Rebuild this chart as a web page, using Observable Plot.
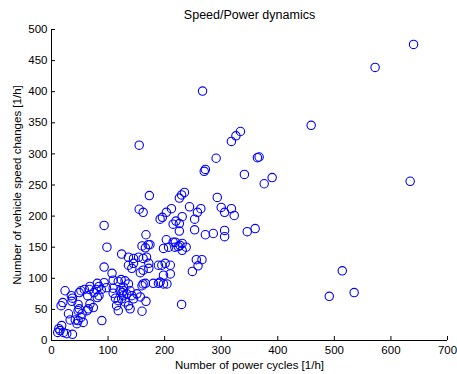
<!DOCTYPE html>
<html>
<head>
<meta charset="utf-8">
<script src="https://cdn.jsdelivr.net/npm/d3@7"></script>
<script src="https://cdn.jsdelivr.net/npm/@observablehq/plot@0.6"></script>
<style>
  html, body { margin: 0; padding: 0; background: #fff; }
  #chart svg { display: block; }
</style>
</head>
<body>
<div id="chart"></div>
<script>
const title = "Speed/Power dynamics";
const xLabel = "Number of power cycles [1/h]";
const yLabel = "Number of vehicle speed changes [1/h]";
const xTicks = [0, 100, 200, 300, 400, 500, 600, 700];
const yTicks = [0, 50, 100, 150, 200, 250, 300, 350, 400, 450, 500];

// Number of power cycles [1/h]
const powerCycles = [
  640, 572, 459, 267, 334, 326, 318, 155, 291, 364, 367, 270, 272, 341, 390, 376, 634, 514, 491, 535,
  173, 235, 230, 226, 293, 244, 264, 258, 300, 306, 318, 323, 155, 162, 212, 203,
  192, 196, 215, 220, 226, 231, 93, 226, 253, 253, 272, 286, 306, 306, 346, 360,
  167, 203, 215, 231, 219, 238, 224, 160, 171, 166, 174, 198, 207, 218, 227, 231, 98,
  256, 266, 259, 249, 230, 145, 154, 162, 168, 172, 136, 142, 145, 157, 162, 172,
  189, 195, 201, 210, 198, 210, 124, 136, 93, 107, 109, 118, 123, 130, 136, 139, 142, 133, 145,
  115, 118, 162, 160, 166, 180, 189, 198, 204, 192, 127, 124, 130, 121, 127, 151, 157, 136, 139,
  24, 52, 49, 58, 68, 67, 64, 81, 84, 79, 75, 88, 84, 81, 93, 97, 109, 109, 113, 118, 125, 127,
  17, 20, 35, 37, 36, 47, 49, 47, 54, 52, 47, 45, 56, 42, 33, 30, 68, 65, 63, 74, 89,
  18, 13, 15, 11, 21, 27, 37, 160, 167
];
// Number of vehicle speed changes [1/h]
const speedChanges = [
  476, 439, 346, 401, 336, 329, 320, 314, 293, 294, 295, 272, 275, 267, 262, 252, 256, 112, 71, 77,
  233, 238, 234, 229, 230, 215, 212, 206, 214, 206, 212, 201, 211, 206, 212, 206,
  195, 198, 187, 192, 188, 199, 185, 176, 195, 178, 170, 172, 177, 167, 175, 180,
  170, 162, 158, 156, 158, 150, 151, 152, 154, 149, 154, 148, 150, 150, 153, 145, 150,
  130, 130, 120, 111, 58, 132, 134, 132, 134, 124, 121, 116, 124, 109, 113, 116,
  121, 121, 124, 121, 105, 107, 139, 134, 118, 108, 97, 95, 98, 96, 91, 80, 72, 75, 67,
  56, 48, 91, 88, 92, 92, 92, 91, 91, 94, 80, 67, 62, 80, 86, 75, 70, 56, 51,
  80, 80, 77, 82, 87, 82, 72, 92, 87, 82, 77, 82, 72, 69, 93, 85, 84, 76, 68, 64, 77, 72,
  56, 61, 72, 68, 63, 58, 51, 48, 43, 37, 32, 27, 29, 33, 33, 43, 59, 51, 48, 53, 32,
  24, 19, 16, 13, 13, 11, 10, 47, 63
];

const points = powerCycles.map((x, i) => ({x, y: speedChanges[i]}));

const font = "'Liberation Sans', Arial, sans-serif";

const chart = Plot.plot({
  width: 457,
  height: 374,
  marginLeft: 51,
  marginRight: 10,
  marginTop: 29,
  marginBottom: 34,
  style: {fontFamily: font, fontSize: "11.5px", color: "#000", background: "#fff", overflow: "visible"},
  x: {domain: [0, 700], ticks: xTicks},
  y: {domain: [0, 500], ticks: yTicks},
  marks: [
    Plot.axisX(xTicks, {tickSize: 0, tickPadding: 5, label: xLabel, labelAnchor: "center", labelArrow: "none", labelOffset: 28, fontSize: 11.5, fill: "#000"}),
    Plot.axisY(yTicks, {tickSize: 0, tickPadding: 4, label: yLabel, labelAnchor: "center", labelArrow: "none", labelOffset: 39, fontSize: 11.5, fill: "#000"}),
    Plot.tickX(xTicks, {x: d => d, frameAnchor: "bottom", insetTop: 307, stroke: "#000"}),
    Plot.tickY(yTicks, {y: d => d, insetRight: 392, stroke: "#000"}),
    Plot.ruleY([0], {stroke: "#000"}),
    Plot.ruleX([0], {stroke: "#000"}),
    Plot.dot(points, {x: "x", y: "y", r: 4.2, stroke: "#0000ff", strokeWidth: 1.1, fill: "none"}),
    Plot.text([title], {frameAnchor: "top", dy: -19, fontSize: 12.5, fill: "#000"})
  ]
});
document.getElementById("chart").appendChild(chart);
</script>
</body>
</html>
